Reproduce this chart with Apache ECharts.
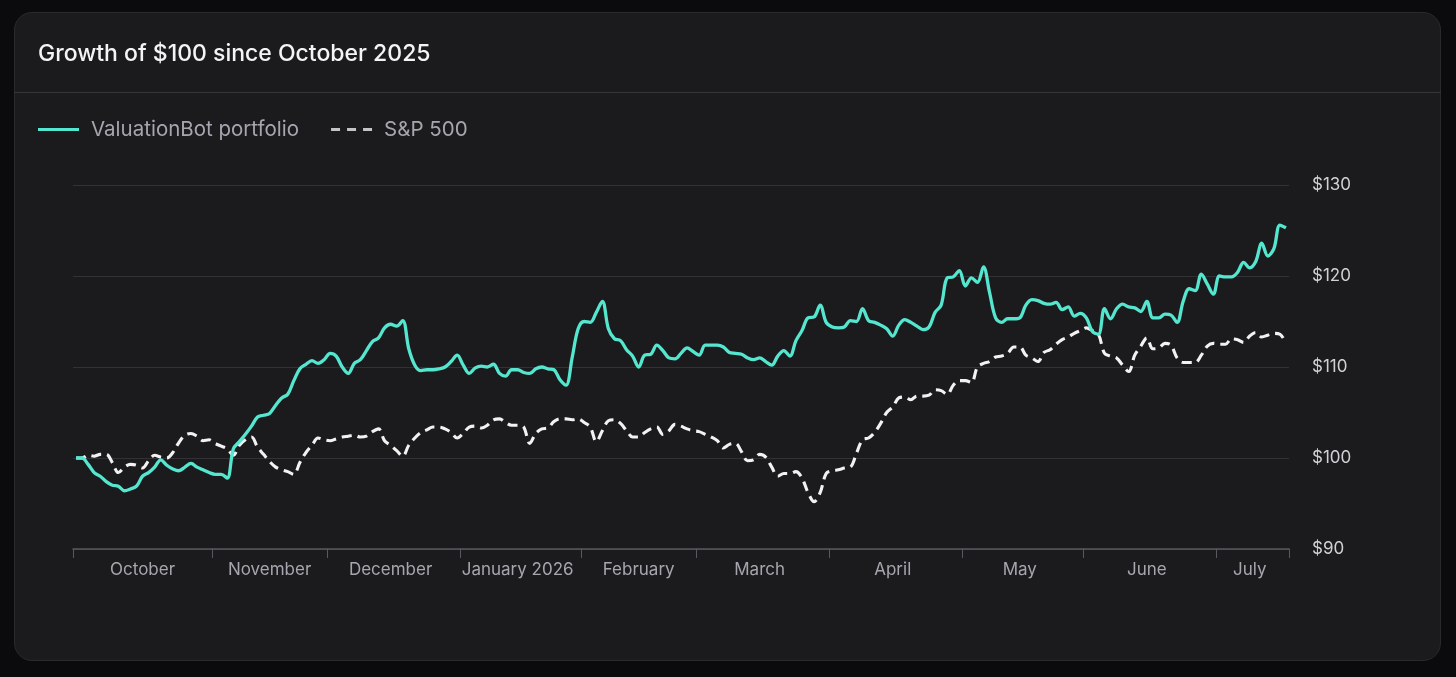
<!DOCTYPE html>
<html>
<head>
<meta charset="utf-8">
<script src="https://cdn.jsdelivr.net/npm/echarts@6/dist/echarts.min.js"></script>
<style>
  html, body { margin: 0; padding: 0; background: #0b0b0d; width: 1456px; height: 677px; overflow: hidden; }
  #card { position: absolute; left: 14px; top: 12px; width: 1427px; height: 649px; background: #1b1b1d; border: 1px solid #2a2a2d; border-radius: 18px; box-sizing: border-box; }
  #sep { position: absolute; left: 14px; top: 92px; width: 1427px; height: 1px; background: #36363a; }
  #chart { position: absolute; left: 0; top: 0; width: 1456px; height: 677px; }
</style>
</head>
<body>
<div id="card"></div>
<div id="sep"></div>
<div id="chart"></div>
<script>
// Months shown on the x axis and trading days in each
const monthLabels = ['October', 'November', 'December', 'January 2026', 'February', 'March', 'April', 'May', 'June', 'July'];
const monthDays = [23, 19, 22, 20, 19, 22, 22, 20, 22, 12];

// Growth of $100 — ValuationBot portfolio (one value per trading day)
const portfolio = [
  100.0, 100.0, 99.3, 98.4, 98.0, 97.4, 97.0, 96.9, 96.4, 96.6,
  96.9, 98.0, 98.4, 99.0, 99.8, 99.2, 98.8, 98.6, 99.0, 99.4,
  99.0, 98.7, 98.4, 98.2, 98.2, 97.8, 101.0, 101.8, 102.6, 103.5,
  104.5, 104.7, 104.9, 105.8, 106.6, 107.0, 108.5, 109.8, 110.3, 110.7,
  110.4, 110.8, 111.5, 111.2, 110.0, 109.3, 110.4, 110.8, 111.8, 112.8,
  113.2, 114.3, 114.7, 114.5, 115.1, 112.0, 110.2, 109.6, 109.7, 109.7,
  109.8, 110.0, 110.6, 111.3, 110.2, 109.3, 109.9, 110.1, 110.0, 110.3,
  109.3, 109.0, 109.7, 109.7, 109.4, 109.3, 109.8, 110.0, 109.8, 109.7,
  108.6, 108.0, 111.0, 114.2, 115.0, 114.9, 116.0, 117.2, 114.2, 113.1,
  112.9, 111.9, 111.2, 110.0, 111.3, 111.4, 112.4, 111.8, 111.0, 110.9,
  111.5, 112.1, 111.7, 111.3, 112.4, 112.4, 112.4, 112.2, 111.6, 111.5,
  111.4, 111.0, 110.8, 111.0, 110.6, 110.2, 111.2, 111.8, 111.2, 112.9,
  114.0, 115.4, 115.5, 116.8, 114.9, 114.4, 114.3, 114.4, 115.1, 115.0,
  116.4, 115.1, 114.9, 114.6, 114.2, 113.4, 114.6, 115.2, 114.9, 114.5,
  114.1, 114.4, 116.0, 116.8, 119.8, 119.9, 120.6, 118.9, 119.8, 119.3,
  121.0, 118.2, 115.4, 114.9, 115.3, 115.3, 115.4, 116.8, 117.4, 117.3,
  117.0, 116.9, 117.1, 116.3, 116.6, 115.6, 115.9, 115.4, 113.9, 113.6,
  116.4, 115.3, 116.4, 116.9, 116.6, 116.5, 116.1, 117.2, 115.4, 115.4,
  115.8, 115.7, 114.9, 117.2, 118.6, 118.4, 120.2, 119.1, 118.0, 120.0,
  119.9, 119.9, 120.4, 121.5, 120.9, 121.6, 123.6, 122.2, 123.0, 125.6,
  125.3
];

// Growth of $100 — S&P 500 (one value per trading day)
const sp500 = [
  100.0, 100.0, 100.3, 100.2, 100.4, 100.4, 99.5, 98.4, 99.0, 99.3,
  99.2, 98.9, 99.7, 100.3, 100.1, 100.0, 100.6, 101.7, 102.5, 102.7,
  102.4, 101.9, 102.0, 101.6, 101.3, 101.0, 100.3, 101.4, 102.0, 102.3,
  101.2, 100.4, 99.6, 99.0, 98.7, 98.5, 98.2, 99.5, 100.6, 101.4,
  102.2, 102.0, 101.9, 102.1, 102.3, 102.4, 102.5, 102.3, 102.4, 102.9,
  103.2, 101.9, 101.4, 100.8, 100.2, 101.4, 102.2, 102.8, 103.1, 103.4,
  103.4, 103.2, 102.8, 102.2, 102.7, 103.4, 103.5, 103.3, 103.6, 104.2,
  104.3, 103.9, 103.6, 103.6, 103.4, 101.6, 102.7, 103.2, 103.3, 104.0,
  104.3, 104.3, 104.2, 104.3, 103.9, 103.4, 101.8, 103.0, 104.1, 104.2,
  103.8, 103.0, 102.3, 102.3, 102.8, 103.2, 103.4, 102.6, 103.0, 103.7,
  103.5, 103.2, 103.0, 102.9, 102.6, 102.3, 101.9, 101.1, 101.5, 101.6,
  100.7, 99.7, 99.8, 100.4, 100.1, 99.0, 98.0, 98.3, 98.3, 98.5,
  97.8, 96.2, 95.2, 96.2, 98.3, 98.6, 98.7, 98.9, 99.0, 100.5,
  102.0, 102.2, 102.8, 103.8, 105.0, 105.6, 106.6, 106.7, 106.4, 106.8,
  106.8, 106.9, 107.5, 107.4, 107.0, 108.0, 108.5, 108.5, 108.3, 110.0,
  110.4, 110.6, 111.1, 111.2, 111.5, 112.2, 112.2, 111.3, 111.0, 110.6,
  111.6, 111.9, 112.5, 113.0, 113.3, 113.7, 114.0, 114.3, 114.0, 113.6,
  111.5, 111.2, 111.0, 110.2, 109.5, 111.3, 112.3, 113.2, 112.0, 112.1,
  112.6, 112.4, 111.0, 110.5, 110.5, 110.5, 111.3, 112.3, 112.6, 112.5,
  112.5, 113.1, 113.0, 112.7, 113.4, 113.8, 113.3, 113.5, 113.7, 113.6,
  112.6
];

// y-axis ticks
const yMin = 90, yMax = 130, yStep = 10;

// Build category list: one per trading day, tagged with its month
const days = [];
const tickKeys = new Set();
const labelKeys = new Map();
monthLabels.forEach((m, mi) => {
  for (let d = 0; d < monthDays[mi]; d++) {
    const key = mi + '|' + d;
    days.push(key);
    if (d === 0) tickKeys.add(key);
    if (d === Math.floor((monthDays[mi] - 1) / 2)) labelKeys.set(key, m);
  }
});

const chart = echarts.init(document.getElementById('chart'), null, { renderer: 'canvas' });
const fontFamily = 'Inter, "Noto Sans", sans-serif';

chart.setOption({
  backgroundColor: 'transparent',
  animation: false,
  textStyle: { fontFamily },
  title: {
    text: 'Growth of $100 since October 2025',
    left: 33, top: 38,
    textStyle: { color: '#f4f4f5', fontSize: 23, fontWeight: 500, fontFamily }
  },
  legend: {
    left: 33, top: 114,
    itemWidth: 41, itemHeight: 3, itemGap: 32,
    textStyle: { color: '#a6a6ae', fontSize: 20.5, fontFamily, padding: [0, 0, 0, 7] },
    data: [
      { name: 'ValuationBot portfolio', icon: 'path://M0,0H41V3H0Z' },
      { name: 'S&P 500', icon: 'path://M0,0H9V3H0Z M16,0H25V3H16Z M32,0H41V3H32Z', itemStyle: { color: '#c4c4c9' } }
    ]
  },
  grid: { left: 73, right: 167, top: 185, bottom: 128, containLabel: false },
  xAxis: {
    type: 'category',
    data: days,
    boundaryGap: true,
    axisLine: { show: true, lineStyle: { color: '#58585e', width: 1.5 } },
    axisTick: {
      show: true, length: 9,
      interval: (i, v) => tickKeys.has(v),
      lineStyle: { color: '#58585e', width: 1 }
    },
    axisLabel: {
      interval: (i, v) => labelKeys.has(v),
      formatter: v => labelKeys.get(v) || '',
      color: '#a6a6ae', fontSize: 17, margin: 12, fontFamily
    },
    splitLine: { show: false }
  },
  yAxis: {
    type: 'value',
    position: 'right',
    min: yMin, max: yMax, interval: yStep,
    axisLine: { show: false },
    axisTick: { show: false },
    axisLabel: { formatter: v => '$' + v, color: '#d0d0d5', fontSize: 17, margin: 23, align: 'left', fontFamily },
    splitLine: { lineStyle: { color: '#323236', width: 1 } }
  },
  series: [
    {
      name: 'ValuationBot portfolio',
      type: 'line',
      data: portfolio,
      symbol: 'none',
      smooth: 0.35,
      color: '#55e6d0',
      lineStyle: { color: '#55e6d0', width: 3.3 },
      z: 3
    },
    {
      name: 'S&P 500',
      type: 'line',
      data: sp500,
      symbol: 'none',
      smooth: 0.35,
      color: '#f2f2f2',
      lineStyle: { color: '#f2f2f2', width: 3.1, type: [10, 6] },
      z: 2
    }
  ]
});
</script>
</body>
</html>
